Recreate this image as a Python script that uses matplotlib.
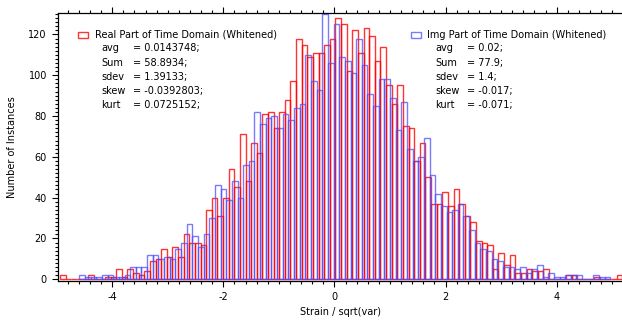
import numpy as np
import matplotlib.pyplot as plt
from matplotlib.patches import Rectangle
from matplotlib.ticker import MultipleLocator

plt.rcParams['axes.unicode_minus'] = False

# histogram counts (left to right)
red_counts = [2, 0, 0, 0, 0, 2, 0, 0, 1, 1,
              5, 1, 5, 3, 2, 4, 9, 10, 15, 11,
              16, 11, 22, 18, 18, 17, 34, 40, 31, 40,
              54, 45, 71, 48, 67, 62, 81, 82, 74, 82,
              88, 97, 118, 115, 109, 111, 111, 115, 118, 128,
              125, 102, 122, 111, 123, 119, 107, 114, 95, 86,
              95, 75, 74, 58, 67, 50, 37, 37, 43, 36,
              44, 37, 31, 28, 19, 18, 17, 5, 13, 7,
              12, 3, 3, 5, 4, 4, 5, 0, 0, 0,
              2, 2, 0, 0, 0, 1, 0, 0, 0, 2]
blue_counts = [2, 1, 1, 1, 2, 2, 1, 1, 2, 6,
               6, 6, 12, 12, 10, 11, 10, 15, 18, 27,
               21, 16, 22, 30, 46, 44, 39, 48, 40, 56,
               58, 82, 76, 79, 80, 74, 81, 78, 84, 86,
               110, 97, 93, 130, 106, 125, 109, 107, 101, 118,
               105, 91, 85, 98, 98, 89, 73, 87, 64, 58,
               60, 69, 51, 42, 36, 33, 34, 37, 31, 24,
               18, 15, 14, 10, 9, 6, 6, 5, 6, 3,
               5, 7, 1, 3, 1, 1, 2, 2, 2, 0,
               0, 2, 1, 1]

red_start, red_width = -4.94, 0.1012
blue_start, blue_width = -4.592, 0.1017

red_title = "Real Part of Time Domain (Whitened)"
red_keys = ["avg", "Sum", "sdev", "skew", "kurt"]
red_vals = ["0.0143748", "58.8934", "1.39133", "-0.0392803", "0.0725152"]
blue_title = "Img Part of Time Domain (Whitened)"
blue_keys = ["avg", "Sum", "sdev", "skew", "kurt"]
blue_vals = ["0.02", "77.9", "1.4", "-0.017", "-0.071"]

red_col = (1.0, 0.0, 0.0, 0.8)
blue_col = (0.3, 0.3, 1.0, 0.75)

W, H = 622, 320
fig = plt.figure(figsize=(W / 100, H / 100), dpi=100)
ax = fig.add_axes([58 / W, 1 - 280.7 / H, (622 - 58) / W, (280.7 - 13) / H])

red_x = red_start + red_width * np.arange(len(red_counts))
blue_x = blue_start + blue_width * np.arange(len(blue_counts))
ax.bar(red_x, red_counts, width=red_width, align='edge', fill=False,
       edgecolor=red_col, linewidth=1.0)
ax.bar(blue_x, blue_counts, width=blue_width, align='edge', fill=False,
       edgecolor=blue_col, linewidth=1.0)

ax.set_xlim(-4.976, 5.177)
ax.set_ylim(-0.7, 130.5)
ax.spines['right'].set_visible(False)
for s in ['left', 'bottom', 'top']:
    ax.spines[s].set_linewidth(0.9)
ax.xaxis.set_major_locator(MultipleLocator(2))
ax.xaxis.set_minor_locator(MultipleLocator(0.2))
ax.yaxis.set_major_locator(MultipleLocator(20))
ax.yaxis.set_minor_locator(MultipleLocator(2))
ax.tick_params(which='both', direction='out', top=True, labelsize=7, width=0.8)
ax.tick_params(which='major', length=4.5)
ax.tick_params(which='minor', length=2.2)
ax.set_xlabel("Strain / sqrt(var)", fontsize=7, labelpad=4)
ax.set_ylabel("Number of Instances", fontsize=7, labelpad=8)


def px(x, y):
    return x / W, 1 - y / H


def legend_block(x_box, x_title, x_key, x_eq, col, title, keys, vals):
    x0, y0 = px(x_box, 37.7)
    fig.add_artist(Rectangle((x0, y0), 10.5 / W, 6 / H, transform=fig.transFigure,
                             fill=False, edgecolor=col, linewidth=1.0))
    fig.text(*px(x_title, 34.5), title, fontsize=7, va='center')
    for k, (key, val) in enumerate(zip(keys, vals)):
        y = 48.3 + 14.25 * k
        fig.text(*px(x_key, y), key, fontsize=7, va='center')
        fig.text(*px(x_eq, y), "= " + val + ";", fontsize=7, va='center')


legend_block(77.7, 95, 101.5, 133, red_col, red_title, red_keys, red_vals)
legend_block(411, 427.3, 435, 466.7, blue_col, blue_title, blue_keys, blue_vals)

fig.savefig("out.png", dpi=100)
